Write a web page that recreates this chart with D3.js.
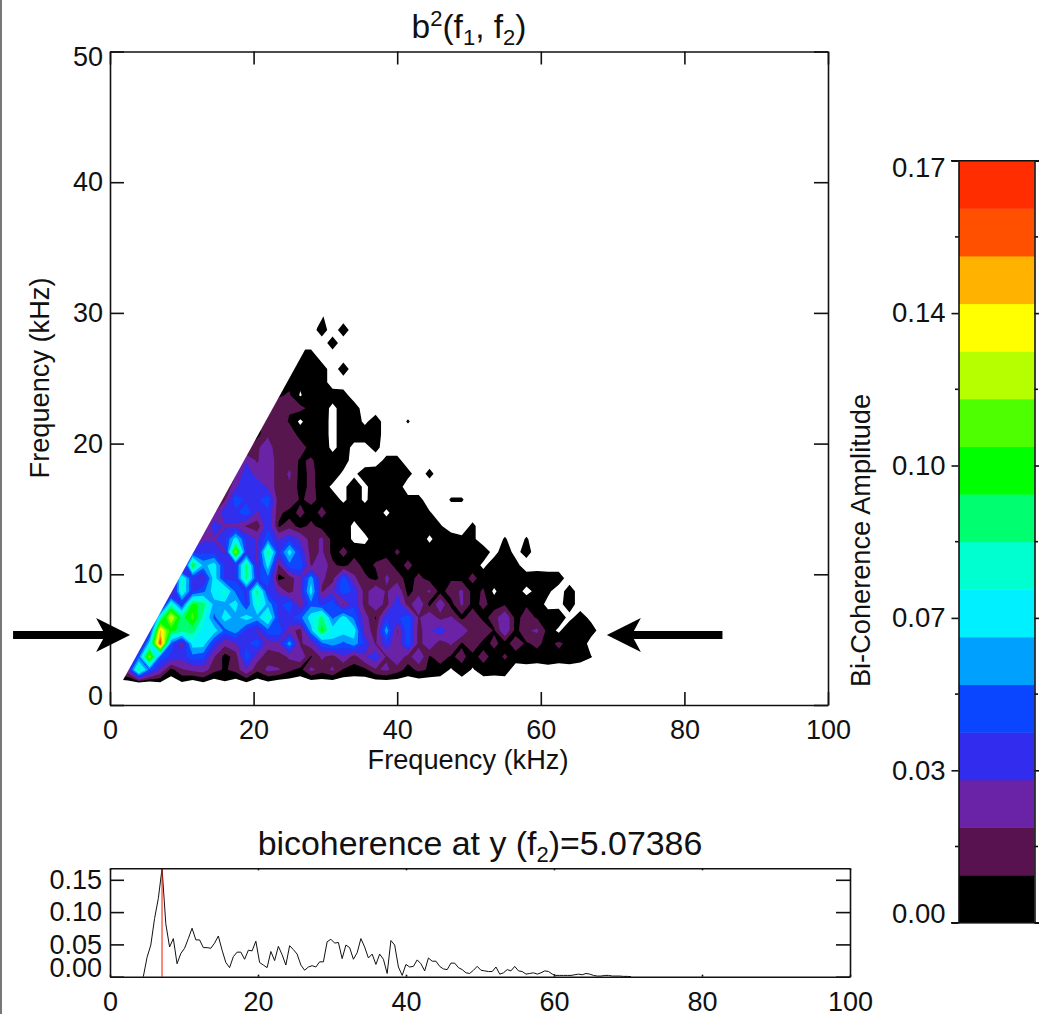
<!DOCTYPE html>
<html>
<head>
<meta charset="utf-8">
<script src="https://cdn.jsdelivr.net/npm/d3@7"></script>
<style>
  html, body { margin: 0; padding: 0; background: #fff; }
  svg { display: block; }
  text { font-family: "Liberation Sans", Arial, sans-serif; fill: #111; }
</style>
</head>
<body>
<script>
// bicoherence, in units of 0.01
// one row per f2 bin (bottom row first), one column per f1 bin, short rows end in zeros
const bicoh = [
    [0,0,0.3,0,0.4,0,0.4,0,0.4,0,0.4,0,0.4,0,0.3],
    [2,3,9,5,3,1,2,2.4,2.6,1.6,1.2,1.6,3,1.5,2.4,2.2,1.5,1,2.4,1.7,2.3,1.2,1,1.1,2,2.3,1.7,1,1.5,1.2,1,0.4,1.1,0.4,1,0.9,1],
    [1,1,5,12,5,4,3.6,5,4.6,2.2,1,1.6,5,2.6,1.6,1.7,2.3,3,1.2,2.3,1.7,3,1.7,3,4,2,3,1.7,3,1.2,1.7,1.2,1.5,1,1.6,1,1.4,1,1.2,1,1.3,1,1.2,0.9,0.55],
    [1,1,1,7,16,5,2.6,7,7,4,2.4,3,4,5,2.6,3,6,2,2.6,5,6,5,6,4,2,4,2.3,5,1.7,3,1.5,2.3,1.2,2,1,1.5,1,1.7,1.2,1.5,1,1.5,1,1.3],
    [1,1,1,3,14,10,9,9,7,7,5,6,4,3,5,5,2.6,1.7,6,10,7,7,7,2.6,1.7,6,2,5,1.7,3,4,2.3,3,1.5,2,1.2,3,1,2,2.3,1,0.3,1.3,1,1],
    [1,1,1,1,8,13,9,11,8,5,7,6,7,6,8,4,4,5,7,9,5,7,5,2.6,1.2,4,4,5,2,3,1.7,2.3,1,2,1,1.7,3,1,1.7,1.2,1,1.1,0.2,1,0.2],
    [1,1,1,1,1,8,4,10,9,6,6,7,4,8,6,4,5,2.3,5,4,5,2,4,1.7,3,1.7,4,1.7,3,1,3,1,2.3,1,1.5,1,1.2,1,1.2,1,0.2,0.2,1],
    [1,1,1,1,1,2,8,4,5,7,8,5,4,9,4,3,1.7,3,7,2,3,5,4,1.7,3,2,3,1,1.7,2.3,1,1.7,2.3,1,1.4,0.3,1.2,1,0.2,0.8,0.7,0,1],
    [1,1,1,1,1,1,8,4,3,7,4,4,9,4,5,1,1.5,3,6,2.3,1.7,5,2.3,1.5,1,2.3,1.7,1,1.5,1,1,1.2,1,1.5,1,1.1,1,1.1,1,1.1,1,1],
    [1,1,1,1,1,1,1,10,6,7,4,4,9,3,7,2,5,5,2,3,1.5,1,1.7,1,1.4,1.7,1,1.5,1,1,1.2,1,1.2,1,0.3,1,1.1,0.8],
    [1,1,1,1,1,1,1,4,4,4,3,12,4,3,9,4,7,4,1.7,2.3,1,1.5,1,1,1,1,1.4,1,1.2,1,1.2,1,1.1,1,1,0.2,1,0.2,0.9],
    [1,1,1,1,1,1,1,1,3,3,4,7,4,3,5,3,4,3,1.7,2.3,1,1,0.3,0.2,1.1,1,1,1,1.1,0.3,1,1,0.7,0.7,0,0,0.6,0,0.6],
    [1,1,1,1,1,1,1,1,1,4,3,3,2,1.5,4,1.2,1.7,1,1.5,1,1,1.2,0.2,1,1.2,1,1.2,1.1,1,1,0.6,0,0,0.7],
    [1,1,1,1,1,1,1,1,1,2,4,4,5,3,4,1.5,1,1.5,1,1.5,1,1.2,1,1.1,1,0.3,1,1.1,1,0.6],
    [1,1,1,1,1,1,1,1,1,1,2,5,4,4,5,1.5,2,1.2,1.5,1.1,1,0.3,1,0.3,1.1,1,1,0.8,0.8,0,0,0.6,0.6],
    [1,1,1,1,1,1,1,1,1,1,1,3,4,4,3,1.5,2,1,1.5,1,0.3,0.3,1,0.3,1,1,1],
    [1,1,1,1,1,1,1,1,1,1,1,2,4,2.6,3,1.5,2.3,1,1.5,1,1.1,0.3,0.3,1,1.1,1,1,0.8,0,0.8],
    [1,1,1,1,1,1,1,1,1,1,1,1,3,2,3,1.5,1.7,1.2,1.4,1,1.1,1,0,0,0,0.8,0.8],
    [1,1,1,1,1,1,1,1,1,1,1,1,1,2,2.6,1.5,1.4,1.7,1,1.2,0.2,1,0.2,0.2,0.8],
    [1,1,1,1,1,1,1,1,1,1,1,1,1,1,2,1.4,1.8,1,1.2,1,0.2,1,1,1,1],
    [1,1,1,1,1,1,1,1,1,1,1,1,1,1,1.7,1.8,1.2,0.3,1.1,1,0.2,1,1,0.3,1,0,0,0.6],
    [1,1,1,1,1,1,1,1,1,1,1,1,1,1,1.2,1.8,1.4,1.6,1,1.1,0.2,1,1],
    [1,1,1,1,1,1,1,1,1,1,1,1,1,1,1,1.2,1.4,0.4,1.1,1,1,0.9],
    [1,1,1,1,1,1,1,1,1,1,1,1,1,1,1,1,1.1,0.7,1,1],
    [1,1,1,1,1,1,1,1,1,1,1,1,1,1,1,1,1,1,1,1,0,1],
    [1,1,1,1,1,1,1,1,1,1,1,1,1,1,1,1,1,1,1],
    [0,0,0,0,0,0,0,0,0,0,0,0,0,0,0,0,0,0,0,0,1],
    [0,0,0,0,0,0,0,0,0,0,0,0,0,0,0,0,0,0,0,1,0,1],
    [0,0,0,0,0,0,0,0,0,0,0,0,0,0,0,0,0,0,0,0.6],
    []
];
const n_f1 = 46;
const f1_start = 1, f1_step = 1.5;
const f2_start = 1.7, f2_step = 1;

// the data stop at the f1 = f2 edge
const edge_f1 = [1.8, 32, 100, 100, 1.5];
const edge_f2 = [1.9, 32, 32, 1, 1];

// colour bands, bottom to top
const band_colors = ["#000000", "#58124f", "#6a22a6", "#322dee", "#0a46ff", "#00a0ff", "#00f0ff", "#00ffd0",
    "#00ff70", "#00ff00", "#4dff00", "#b5ff00", "#ffff00", "#ffb300", "#ff5000", "#ff2d00"];
const band_width = 0.17 / 16;

// colour bar ticks
const bar_major = [0.17, 0.136, 0.102, 0.068, 0.034, 0];
const bar_labels = ["0.17", "0.14", "0.10", "0.07", "0.03", "0.00"];
const bar_minor = [0.153, 0.119, 0.085, 0.051, 0.017];

// cut at y (f2) = 5.07386, first value at f1 = 4.5 kHz
const cut_start = 4.5, cut_step = 0.507;
const cut_values = [0, 0.03, 0.049, 0.09, 0.121, 0.1675, 0.082, 0.046, 0.059, 0.02, 0.036, 0.044, 0.059, 0.075, 0.057,
    0.057, 0.045, 0.045, 0.044, 0.052, 0.063, 0.041, 0.022, 0.014, 0.031, 0.038, 0.038, 0.027, 0.041, 0.04, 0.055,
    0.022, 0.018, 0.014, 0.039, 0.025, 0.047, 0.034, 0.018, 0.048, 0.042, 0.035, 0.018, 0.01, 0.015, 0.017, 0.015,
    0.023, 0.023, 0.054, 0.058, 0.052, 0.053, 0.028, 0.049, 0.045, 0.027, 0.037, 0.059, 0.046, 0.029, 0.035, 0.019,
    0.035, 0.027, 0.005, 0.056, 0.049, 0.015, 0.002, 0.019, 0.015, 0.016, 0.026, 0.02, 0.009, 0.029, 0.024, 0.024,
    0.016, 0.012, 0.011, 0.021, 0.021, 0.014, 0.011, 0.006, 0.005, 0.01, 0.016, 0.01, 0.009, 0.008, 0.008, 0.015,
    0.004, 0.006, 0.011, 0.009, 0.016, 0.009, 0.008, 0.004, 0.005, 0.006, 0.004, 0.006, 0.009, 0.008, 0.004, 0.002,
    0.002, 0.002, 0.002, 0.002, 0.003, 0.004, 0.003, 0.005, 0.004, 0.002, 0.001, 0.001, 0.002, 0.002, 0.001, 0.001,
    0.001, 0.0005, 0.0005, 0];
const peak_f1 = 7.03;

// ticks
const main_x_ticks = [0, 20, 40, 60, 80, 100];
const main_y_ticks = [0, 10, 20, 30, 40, 50];
const cut_x_ticks = [0, 20, 40, 60, 80, 100];
const cut_y_ticks = [0, 0.05, 0.1, 0.15];

// arrows at the cut, [tip, tail] in kHz
const arrow_f2 = 5.36;
const arrow_left = [2.8, -13.5];
const arrow_right = [69.2, 85.3];

const svg = d3.select("body").append("svg")
    .attr("width", 1039)
    .attr("height", 1014);

svg.append("rect").attr("width", 1039).attr("height", 1014).attr("fill", "#fff");

// window edge on the left of the picture
svg.append("rect").attr("x", 0).attr("y", 0).attr("width", 2).attr("height", 1014).attr("fill", "#777");

// Scales
const x_main = d3.scaleLinear().domain([0, 100]).range([110, 828]);
const y_main = d3.scaleLinear().domain([0, 50]).range([705, 51.5]);
const x_cut = d3.scaleLinear().domain([0, 100]).range([110, 850]);
const y_cut = d3.scaleLinear().domain([0, 0.1678]).range([976.7, 868.3]);
const y_bar = d3.scaleLinear().domain([0, 0.17]).range([922.7, 160.7]);

// Contour image
const n_f2 = bicoh.length;
const flat = [];
bicoh.forEach(row => {
    for (let c = 0; c < n_f1; c++) flat.push(row[c] || 0);
});

// black starts at 0.5, and stays black a little past the first band edge
const levels = band_colors.map((c, i) => i === 0 ? 0.5 : i === 1 ? 1.3 : i * band_width * 100);
const contours = d3.contours().size([n_f1, n_f2]).smooth(true).thresholds(levels)(flat);

const to_screen = d3.geoTransform({
    point: function (gx, gy) {
        this.stream.point(
            x_main(f1_start + (gx - 0.5) * f1_step),
            y_main(f2_start + (gy - 0.5) * f2_step));
    }
});

svg.append("clipPath").attr("id", "edge")
    .append("polygon")
    .attr("points", edge_f1.map((f, i) => x_main(f) + "," + y_main(edge_f2[i])).join(" "));

// the reference is a little soft
svg.append("filter").attr("id", "soft")
    .attr("filterUnits", "userSpaceOnUse")
    .attr("x", 0).attr("y", 0).attr("width", 1039).attr("height", 1014)
    .append("feGaussianBlur").attr("stdDeviation", 0.6);

svg.append("g")
    .attr("clip-path", "url(#edge)")
    .append("g")
    .attr("filter", "url(#soft)")
    .selectAll("path")
    .data(contours)
    .join("path")
    .attr("d", d3.geoPath(to_screen))
    .attr("fill", (d, i) => band_colors[i]);

// helper for the axes, everything ticked inward
function styleAxis(g, size) {
    g.selectAll("path").attr("stroke", "#111").attr("stroke-width", 1.6);
    g.selectAll("line").attr("stroke", "#111").attr("stroke-width", 1.6);
    g.selectAll("text").attr("font-size", size).attr("font-family", "Liberation Sans").attr("fill", "#111");
    return g;
}

// Main plot axes
const main_bottom = svg.append("g")
    .attr("transform", "translate(0,705)")
    .call(d3.axisBottom(x_main).tickValues(main_x_ticks).tickSizeInner(-13).tickSizeOuter(0).tickPadding(15));
styleAxis(main_bottom, 27);

const main_top = svg.append("g")
    .attr("transform", "translate(0,51.5)")
    .call(d3.axisTop(x_main).tickValues(main_x_ticks).tickSizeInner(-13).tickSizeOuter(0).tickFormat(""));
styleAxis(main_top, 27);

const main_left = svg.append("g")
    .attr("transform", "translate(110,0)")
    .call(d3.axisLeft(y_main).tickValues(main_y_ticks).tickSizeInner(-14).tickSizeOuter(0).tickPadding(7));
styleAxis(main_left, 27);
main_left.selectAll(".tick text").filter(d => d === 0).attr("y", -9);
main_left.selectAll(".tick text").filter(d => d === 50).attr("y", 5);

const main_right = svg.append("g")
    .attr("transform", "translate(828,0)")
    .call(d3.axisRight(y_main).tickValues(main_y_ticks).tickSizeInner(-14).tickSizeOuter(0).tickFormat(""));
styleAxis(main_right, 27);

// Main plot labels
svg.append("text")
    .attr("x", 468)
    .attr("y", 769)
    .attr("text-anchor", "middle")
    .style("font-size", "27.2px")
    .text("Frequency (kHz)");

svg.append("text")
    .attr("transform", "translate(49,378) rotate(-90)")
    .attr("text-anchor", "middle")
    .style("font-size", "27.2px")
    .text("Frequency (kHz)");

const title = svg.append("text")
    .attr("x", 469)
    .attr("y", 38)
    .attr("text-anchor", "middle")
    .style("font-size", "33.5px");
title.append("tspan").text("b");
title.append("tspan").attr("dy", -12).style("font-size", "22px").text("2");
title.append("tspan").attr("dy", 12).text("(f");
title.append("tspan").attr("dy", 7).style("font-size", "22px").text("1");
title.append("tspan").attr("dy", -7).text(", f");
title.append("tspan").attr("dy", 7).style("font-size", "22px").text("2");
title.append("tspan").attr("dy", -7).text(")");

// Arrows
function drawArrow(tip, tail) {
    const dir = tail > tip ? 1 : -1;
    const x_tip = x_main(tip), x_tail = x_main(tail), y_mid = y_main(arrow_f2);
    const pts = [[x_tip, y_mid], [x_tip + dir * 34, y_mid - 17], [x_tip + dir * 27, y_mid - 4],
        [x_tail, y_mid - 4], [x_tail, y_mid + 4], [x_tip + dir * 27, y_mid + 4], [x_tip + dir * 34, y_mid + 17]];
    svg.append("path")
        .attr("d", d3.line()(pts) + "Z")
        .attr("fill", "#000");
}
drawArrow(arrow_left[0], arrow_left[1]);
drawArrow(arrow_right[0], arrow_right[1]);

// Cut plot
const cut_line = d3.line()
    .x((d, i) => x_cut(cut_start + i * cut_step))
    .y(d => y_cut(d));

svg.append("path")
    .datum(cut_values)
    .attr("d", cut_line)
    .attr("fill", "none")
    .attr("stroke", "#111")
    .attr("stroke-width", 1);

svg.append("line")
    .attr("x1", x_cut(peak_f1))
    .attr("x2", x_cut(peak_f1))
    .attr("y1", y_cut.range()[0])
    .attr("y2", y_cut.range()[1])
    .attr("stroke", "#f01800")
    .attr("stroke-width", 1);

const cut_bottom = svg.append("g")
    .attr("transform", "translate(0,976.7)")
    .call(d3.axisBottom(x_cut).tickValues(cut_x_ticks).tickSizeInner(-2).tickSizeOuter(0).tickPadding(15));
styleAxis(cut_bottom, 27);

const cut_top = svg.append("g")
    .attr("transform", "translate(0,868.3)")
    .call(d3.axisTop(x_cut).tickValues(cut_x_ticks).tickSizeInner(-2).tickSizeOuter(0).tickFormat(""));
styleAxis(cut_top, 27);

const cut_left = svg.append("g")
    .attr("transform", "translate(110,0)")
    .call(d3.axisLeft(y_cut).tickValues(cut_y_ticks).tickSizeInner(-14).tickSizeOuter(0).tickPadding(8).tickFormat(d3.format(".2f")));
styleAxis(cut_left, 27);
cut_left.selectAll(".tick text").filter(d => d === 0).attr("y", -9);

const cut_right = svg.append("g")
    .attr("transform", "translate(850,0)")
    .call(d3.axisRight(y_cut).tickValues(cut_y_ticks).tickSizeInner(-14).tickSizeOuter(0).tickFormat(""));
styleAxis(cut_right, 27);

const cut_title = svg.append("text")
    .attr("x", 480)
    .attr("y", 855)
    .attr("text-anchor", "middle")
    .style("font-size", "33.9px");
cut_title.append("tspan").text("bicoherence at y (f");
cut_title.append("tspan").attr("dy", 7).style("font-size", "22px").text("2");
cut_title.append("tspan").attr("dy", -7).text(")=5.07386");

// Colour bar
svg.append("g")
    .selectAll("rect")
    .data(band_colors)
    .join("rect")
    .attr("x", 959)
    .attr("width", 75.5)
    .attr("y", (d, i) => y_bar((i + 1) * band_width))
    .attr("height", (d, i) => y_bar(i * band_width) - y_bar((i + 1) * band_width) + 0.5)
    .attr("fill", d => d);

const bar_left = svg.append("g")
    .attr("transform", "translate(958.5,0)")
    .call(d3.axisLeft(y_bar).tickValues(bar_major).tickSizeInner(7).tickSizeOuter(0).tickPadding(6)
        .tickFormat((d, i) => bar_labels[i]));
styleAxis(bar_left, 27.5);
bar_left.selectAll(".tick text").filter(d => d === 0.17).attr("y", 7);
bar_left.selectAll(".tick text").filter(d => d === 0).attr("y", -9);

const bar_right = svg.append("g")
    .attr("transform", "translate(1034.5,0)")
    .call(d3.axisRight(y_bar).tickValues(bar_major).tickSizeInner(7).tickSizeOuter(0).tickFormat(""));
styleAxis(bar_right, 27.5);

svg.append("g").selectAll("line")
    .data(bar_minor)
    .join("line")
    .attr("x1", 955)
    .attr("x2", 958.5)
    .attr("y1", d => y_bar(d))
    .attr("y2", d => y_bar(d))
    .attr("stroke", "#111")
    .attr("stroke-width", 1.6);

svg.append("g").selectAll("line")
    .data(bar_minor)
    .join("line")
    .attr("x1", 1034.5)
    .attr("x2", 1038)
    .attr("y1", d => y_bar(d))
    .attr("y2", d => y_bar(d))
    .attr("stroke", "#111")
    .attr("stroke-width", 1.6);

// end caps of the bar, top and bottom
svg.append("g").selectAll("line")
    .data([0, 0.17])
    .join("line")
    .attr("x1", 951)
    .attr("x2", 1039)
    .attr("y1", d => y_bar(d))
    .attr("y2", d => y_bar(d))
    .attr("stroke", "#111")
    .attr("stroke-width", 1.6);

svg.append("text")
    .attr("transform", "translate(870,540.5) rotate(-90)")
    .attr("text-anchor", "middle")
    .style("font-size", "27.2px")
    .text("Bi-Coherence Amplitude");
</script>
</body>
</html>
